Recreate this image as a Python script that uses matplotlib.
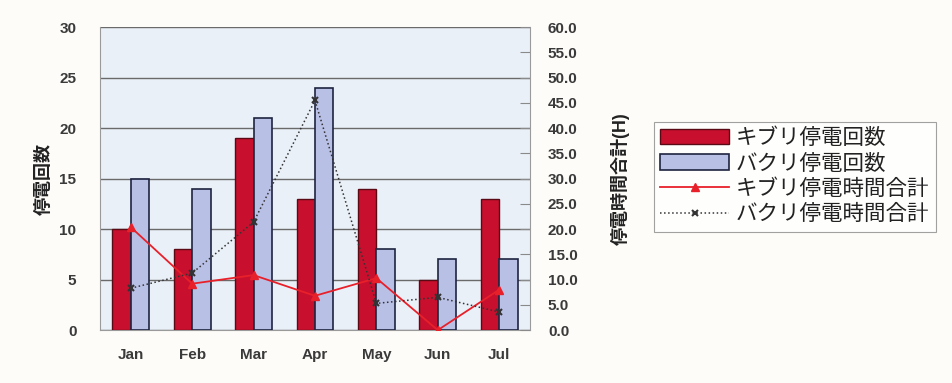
import matplotlib.pyplot as plt
import numpy as np

plt.rcParams['font.family'] = ['Liberation Sans', 'Noto Sans CJK JP', 'DejaVu Sans']

months = ["Jan", "Feb", "Mar", "Apr", "May", "Jun", "Jul"]
kiburi_count = [10, 8, 19, 13, 14, 5, 13]
bakuri_count = [15, 14, 21, 24, 8, 7, 7]
kiburi_hours = [20.4, 9.2, 10.9, 6.8, 10.3, 0.0, 8.0]
bakuri_hours = [8.3, 11.3, 21.4, 45.5, 5.3, 6.5, 3.6]

labels = ["キブリ停電回数", "バクリ停電回数", "キブリ停電時間合計", "バクリ停電時間合計"]

fig = plt.figure(figsize=(9.53, 3.83), dpi=100)
fig.patch.set_facecolor("#fdfcf9")
ax = fig.add_axes([0.105, 0.138, 0.451, 0.791])
ax.set_facecolor("#eaf0f8")

x = np.arange(len(months))
w = 0.3
b1 = ax.bar(x - w / 2, kiburi_count, w, color="#c8102e", edgecolor="#5a0a14",
            linewidth=1.0, zorder=3, label=labels[0])
b2 = ax.bar(x + w / 2, bakuri_count, w, color="#b9c0e6", edgecolor="#1e2440",
            linewidth=1.2, zorder=3, label=labels[1])

tick_font = dict(fontsize=11, fontweight="bold", color="#3a3a3a")

ax.set_xlim(-0.5, len(months) - 0.5)
ax.set_ylim(0, 30)
ax.set_yticks(range(0, 31, 5))
ax.set_yticklabels([str(v) for v in range(0, 31, 5)], **tick_font)
ax.set_xticks(x)
ax.set_xticklabels(months, **tick_font)
ax.yaxis.grid(True, color="#6a6a6a", linewidth=1.0, zorder=0)
ax.tick_params(axis="x", length=0, pad=13)
ax.tick_params(axis="y", length=0, pad=17)
for s in ["top", "right"]:
    ax.spines[s].set_visible(False)
ax.spines["left"].set_color("#9a9a9a")
ax.spines["bottom"].set_color("#9a9a9a")
ax.set_ylabel("停電回数", fontsize=13, color="#222222", labelpad=5,
              fontweight="bold")

ax2 = ax.twinx()
ax2.set_ylim(0, 60)
ax2.set_yticks(np.arange(0, 61, 5))
ax2.set_yticklabels([f"{v:.1f}" for v in np.arange(0, 61, 5)], **tick_font)
ax2.tick_params(axis="y", direction="in", length=7, color="#8a8a8a", pad=13)
for s in ["top", "left", "bottom"]:
    ax2.spines[s].set_visible(False)
ax2.spines["right"].set_color("#9a9a9a")
l1, = ax2.plot(x, kiburi_hours, color="#e8202a", linewidth=1.3, marker="^",
               markersize=6, zorder=5, label=labels[2])
l2, = ax2.plot(x, bakuri_hours, color="#333333", linewidth=1.1, linestyle=":",
               marker="x", markersize=5, markeredgewidth=1.5, zorder=5,
               label=labels[3])
ax2.set_ylabel("停電時間合計(H)", fontsize=13, color="#222222", labelpad=24,
               rotation=90, fontweight="bold")
ax2.yaxis.set_label_position("right")

leg = fig.legend([b1, b2, l1, l2], labels, loc="upper left",
                 bbox_to_anchor=(0.686, 0.682), fontsize=15.5, frameon=True,
                 fancybox=False, edgecolor="#8a8a8a", handlelength=3.2,
                 handleheight=0.7, handletextpad=0.3, borderpad=0.3,
                 labelspacing=0.2, borderaxespad=0)
leg.get_frame().set_linewidth(0.8)
for t in leg.get_texts():
    t.set_color("#222222")

fig.savefig("out.png", dpi=100, facecolor=fig.get_facecolor())
